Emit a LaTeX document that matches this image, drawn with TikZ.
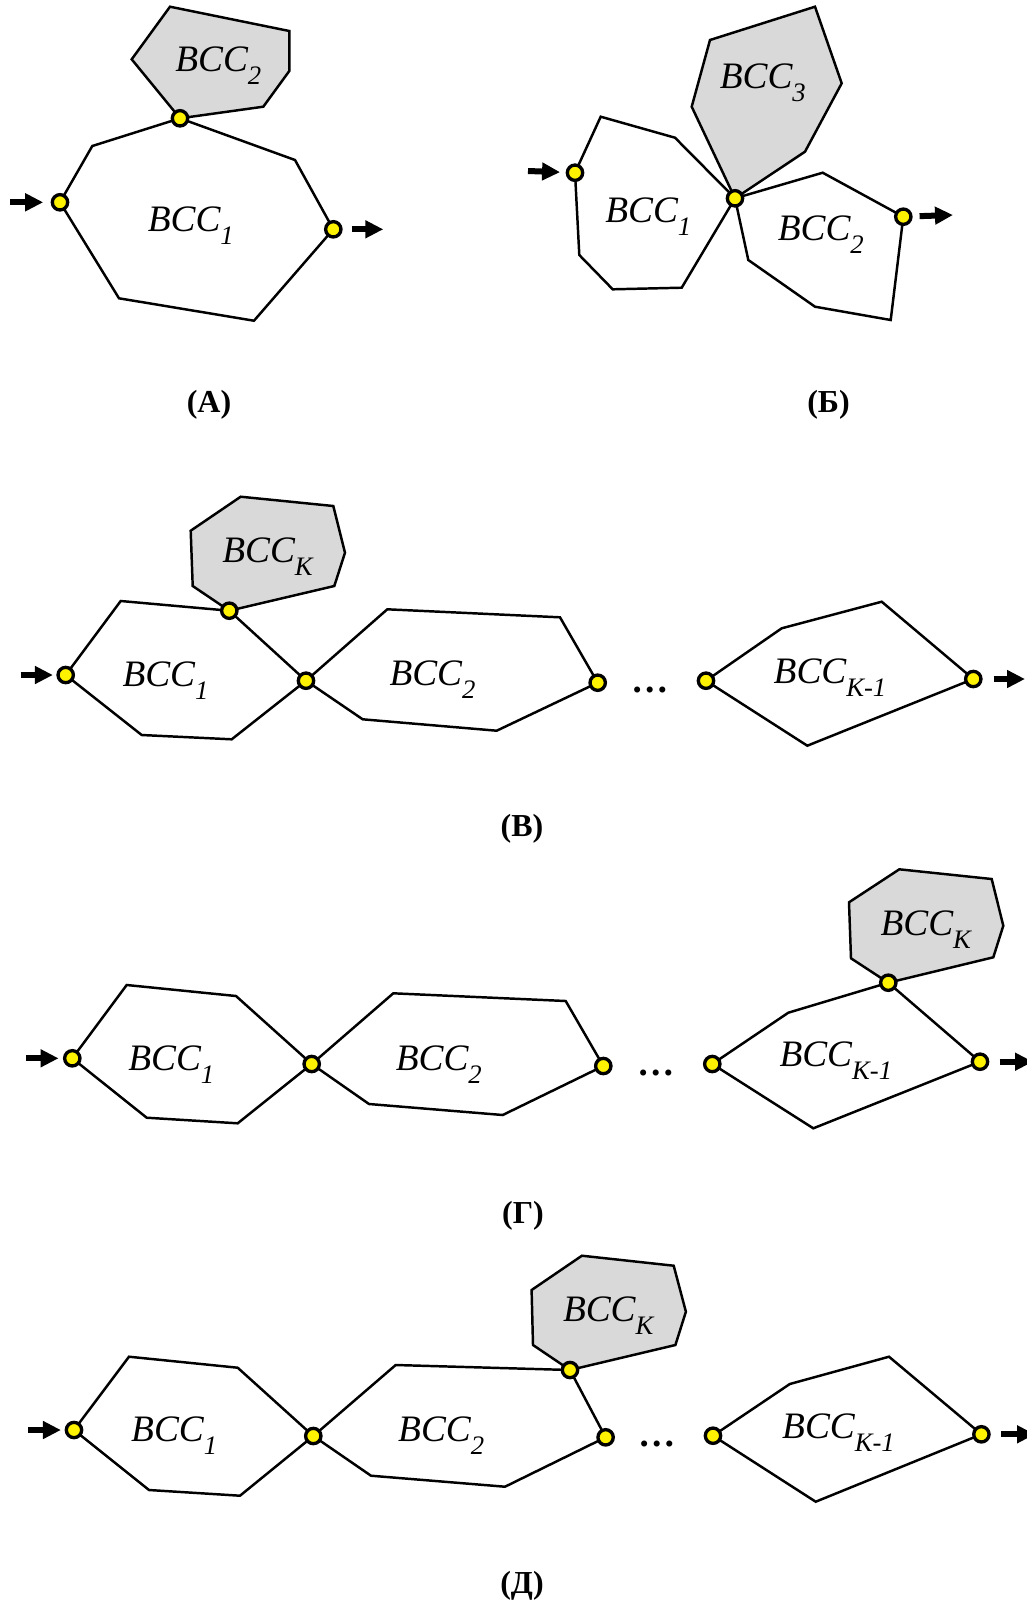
\documentclass[tikz,border=0pt]{standalone}
\usepackage{fontspec}
\setmainfont{Liberation Serif}
\usetikzlibrary{arrows.meta}
\newcommand{\bccsub}[1]{\raisebox{-0.35em}{\fontsize{20}{20}\selectfont #1}}
\begin{document}
\begin{tikzpicture}[x=0.75pt,y=-0.75pt,
  blk/.style={draw=black, line width=1.85pt, line join=miter},
  shaded/.style={blk, fill=gray!30},
  port/.style={circle, draw=black, fill=yellow, line width=2.5pt, minimum size=11.5pt, inner sep=0pt},
  arr/.style={-{Triangle[length=13.5pt,width=12.75pt]}, line width=4.5pt},
  lbl/.style={anchor=base, inner sep=0pt, font=\fontsize{28}{30}\selectfont\itshape},
  caplbl/.style={anchor=base, inner sep=0pt, font=\fontsize{24}{26}\selectfont\bfseries},
  gapdots/.style={anchor=base, inner sep=0pt, font=\fontsize{28}{30}\selectfont\bfseries}]
\useasboundingbox (0,0) rectangle (1027,1604);

% ---------- (A) ----------
\coordinate (a1) at (60,202.3);
\coordinate (a2) at (180,118.3);
\coordinate (a3) at (333.3,229.3);
\coordinate (inA) at (10,202.3);
\coordinate (outA) at (383.3,229.3);
\draw[shaded] (170,6.7) -- (289.3,31) -- (289.3,71) -- (263.3,106.7) -- (a2) -- (131.7,59.3) -- cycle;
\draw[blk] (a2) -- (295,160) -- (a3) -- (254,320.7) -- (119,298.3) -- (a1) -- (92.3,146) -- cycle;
\node[port] (pA1) at (a1) {};
\node[port] (pA2) at (a2) {};
\node[port] (pA3) at (a3) {};
\draw[arr, shorten >=5.6pt] (inA) -- (pA1);
\draw[arr, shorten <=6.7pt] (pA3) -- (outA);
\node[lbl] (tA1) at (190.8,231.7) {BCC\bccsub{1}};
\node[lbl] (tA2) at (218.3,71.7) {BCC\bccsub{2}};
\node[caplbl] (capA) at (209,412) {(А)};

% ---------- (Б) ----------
\coordinate (b1) at (575,172.7);
\coordinate (b2) at (735,198.3);
\coordinate (b3) at (903.3,216.7);
\coordinate (inB) at (528,171);
\coordinate (outB) at (953,215);
\draw[shaded] (710,40) -- (815,6.7) -- (841.7,83.3) -- (805,151.7) -- (b2) -- (691.7,106.7) -- cycle;
\draw[blk] (b1) -- (600.7,116.7) -- (675,137.7) -- (b2) -- (681.7,287.7) -- (612.7,289.3) -- (579.3,255) -- cycle;
\draw[blk] (b2) -- (822.7,172.7) -- (b3) -- (890.7,320) -- (815,306.7) -- (748.3,260) -- cycle;
\node[port] (pB1) at (b1) {};
\node[port] (pB2) at (b2) {};
\node[port] (pB3) at (b3) {};
\draw[arr, shorten >=4.2pt] (inB) -- (pB1);
\draw[arr, shorten <=5.2pt] (pB3) -- (outB);
\node[lbl] (tB1) at (648.3,222.7) {BCC\bccsub{1}};
\node[lbl] (tB2) at (820.8,240.7) {BCC\bccsub{2}};
\node[lbl] (tB3) at (762.8,88.3) {BCC\bccsub{3}};
\node[caplbl] (capB) at (828.5,412) {(Б)};

% ---------- (В) ----------
\coordinate (v1) at (65.7,675);
\coordinate (v2) at (229.3,610.7);
\coordinate (v3) at (306,680.7);
\coordinate (v4) at (597.7,682.7);
\coordinate (v5) at (706,680.7);
\coordinate (v6) at (973.3,679);
\coordinate (inV) at (20.7,675);
\coordinate (outV) at (1025,679);
\draw[shaded] (240.7,496.7) -- (333.3,506) -- (345,552.7) -- (334.3,586) -- (v2) -- (192.7,586) -- (190.7,530.7) -- cycle;
\draw[blk] (v1) -- (120.7,601) -- (v2) -- (v3) -- (231.7,739.3) -- (141.7,735) -- cycle;
\draw[blk] (v3) -- (387.3,609.3) -- (560,617.3) -- (v4) -- (496.7,730.7) -- (362.7,719.3) -- cycle;
\draw[blk] (v5) -- (781.7,628.3) -- (881.7,601.7) -- (v6) -- (807.3,745.7) -- cycle;
\node[port] (pV1) at (v1) {};
\node[port] (pV2) at (v2) {};
\node[port] (pV3) at (v3) {};
\node[port] (pV4) at (v4) {};
\node[port] (pV5) at (v5) {};
\node[port] (pV6) at (v6) {};
\draw[arr, shorten >=2.6pt] (inV) -- (pV1);
\draw[arr, shorten <=8.2pt] (pV6) -- (outV);
\node[gapdots] (dV) at (650,692) {…};
\node[lbl] (tV1) at (165.5,686.7) {BCC\bccsub{1}};
\node[lbl] (tV2) at (432.5,685) {BCC\bccsub{2}};
\node[lbl] (tVK) at (267.5,562.7) {BCC\bccsub{K}};
\node[lbl] (tVK1) at (830,683.3) {BCC\bccsub{K-1}};
\node[caplbl] (capV) at (522,836) {(В)};

% ---------- (Г) ----------
\coordinate (g1) at (72.3,1058.3);
\coordinate (g2) at (311.7,1064);
\coordinate (g3) at (603.3,1066);
\coordinate (g4) at (712.3,1064);
\coordinate (g5) at (888.3,982.7);
\coordinate (g6) at (980,1061.7);
\coordinate (inG) at (26,1058.3);
\coordinate (outG) at (1033,1061.7);
\draw[shaded] (899.3,869.3) -- (991.7,879) -- (1003.3,925.7) -- (993.3,957.3) -- (g5) -- (851,958.3) -- (849,902.3) -- cycle;
\draw[blk] (g1) -- (126.7,985) -- (236,996) -- (g2) -- (237.7,1123.3) -- (146.7,1117.7) -- cycle;
\draw[blk] (g2) -- (393.3,993.3) -- (565.7,1001) -- (g3) -- (502.7,1115) -- (369,1104) -- cycle;
\draw[blk] (g4) -- (788.3,1012.7) -- (g5) -- (g6) -- (813.3,1128.3) -- cycle;
\node[port] (pG1) at (g1) {};
\node[port] (pG2) at (g2) {};
\node[port] (pG3) at (g3) {};
\node[port] (pG4) at (g4) {};
\node[port] (pG5) at (g5) {};
\node[port] (pG6) at (g6) {};
\draw[arr, shorten >=3.3pt] (inG) -- (pG1);
\draw[arr, shorten <=7.8pt] (pG6) -- (outG);
\node[gapdots] (dG) at (656,1075) {…};
\node[lbl] (tG1) at (171.3,1070) {BCC\bccsub{1}};
\node[lbl] (tG2) at (438.8,1070) {BCC\bccsub{2}};
\node[lbl] (tGK) at (925.8,935) {BCC\bccsub{K}};
\node[lbl] (tGK1) at (835.8,1066) {BCC\bccsub{K-1}};
\node[caplbl] (capG) at (523,1223) {(Г)};

% ---------- (Д) ----------
\coordinate (d1) at (74,1430);
\coordinate (d2) at (313.3,1436);
\coordinate (d3) at (570,1370);
\coordinate (d4) at (605.6,1437.3);
\coordinate (d5) at (713,1435.7);
\coordinate (d6) at (981.4,1434.3);
\coordinate (inD) at (28.3,1430);
\coordinate (outD) at (1035,1434.3);
\draw[shaded] (581.9,1255.7) -- (673.7,1265.7) -- (685.9,1311.7) -- (675.4,1345) -- (d3) -- (533,1345) -- (531.6,1290) -- cycle;
\draw[blk] (d1) -- (129,1356.7) -- (237.7,1367.7) -- (d2) -- (240,1495.7) -- (149,1490) -- cycle;
\draw[blk] (d2) -- (395.7,1365) -- (d3) -- (d4) -- (505,1486.7) -- (371,1475.7) -- cycle;
\draw[blk] (d5) -- (789.8,1384) -- (889,1356.7) -- (d6) -- (815.7,1501.7) -- cycle;
\node[port] (pD1) at (d1) {};
\node[port] (pD2) at (d2) {};
\node[port] (pD3) at (d3) {};
\node[port] (pD4) at (d4) {};
\node[port] (pD5) at (d5) {};
\node[port] (pD6) at (d6) {};
\draw[arr, shorten >=2.8pt] (inD) -- (pD1);
\draw[arr, shorten <=8pt] (pD6) -- (outD);
\node[gapdots] (dD) at (657,1446.5) {…};
\node[lbl] (tD1) at (174.2,1441.7) {BCC\bccsub{1}};
\node[lbl] (tD2) at (441.2,1441.7) {BCC\bccsub{2}};
\node[lbl] (tDK) at (608.2,1321.7) {BCC\bccsub{K}};
\node[lbl] (tDK1) at (838.5,1438.3) {BCC\bccsub{K-1}};
\node[caplbl] (capD) at (522,1593) {(Д)};
\end{tikzpicture}
\end{document}
